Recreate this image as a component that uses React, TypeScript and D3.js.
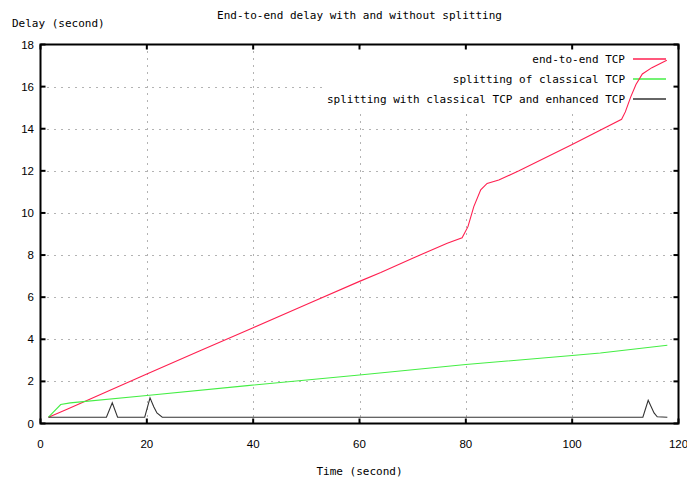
import React from "react";
import * as d3 from "d3";

const xTicks = [0, 20, 40, 60, 80, 100, 120];
const yTicks = [0, 2, 4, 6, 8, 10, 12, 14, 16, 18];

const seriesNames = [
  "end-to-end TCP",
  "splitting of classical TCP",
  "splitting with classical TCP and enhanced TCP",
];
const seriesColors = ["#ff2050", "#44ee44", "#333333"];

const endToEnd: [number, number][] = [
  [1.5, 0.3], [5, 0.68], [10, 1.24], [20, 2.35], [30, 3.45], [40, 4.55],
  [50, 5.65], [60, 6.75], [64, 7.17], [70, 7.85], [76.5, 8.56], [79.3, 8.82],
  [80.4, 9.35], [81.5, 10.3], [82.8, 11.1], [84, 11.4], [86.2, 11.56],
  [90, 12.0], [100, 13.25], [109.3, 14.45], [110, 14.8], [111, 15.5],
  [112, 16.1], [113.2, 16.6], [115, 16.9], [117.8, 17.25],
];

const classical: [number, number][] = [
  [1.5, 0.3], [3.8, 0.9], [5.6, 0.98], [20, 1.33], [38.9, 1.8], [60, 2.3],
  [80, 2.8], [100, 3.23], [105.3, 3.35], [117.9, 3.72],
];

const enhanced: [number, number][] = [
  [1.5, 0.3], [12.4, 0.3], [13.5, 0.98], [14.5, 0.3], [19.6, 0.3],
  [20.6, 1.22], [21.3, 0.8], [21.9, 0.5], [22.9, 0.3], [113.3, 0.3],
  [114.3, 1.1], [115.4, 0.5], [116, 0.32], [117.9, 0.3],
];

const allSeries = [endToEnd, classical, enhanced];

export default function App() {
  const W = 687;
  const H = 479;
  const left = 40.5, right = 678.5, top = 44.5, bottom = 423.5;
  const x = d3.scaleLinear().domain([0, 120]).range([left, right]);
  const y = d3.scaleLinear().domain([0, 18]).range([bottom, top]);
  const line = d3
    .line<[number, number]>()
    .x((d) => x(d[0]))
    .y((d) => y(d[1]));
  const mono = "'DejaVu Sans Mono', monospace";
  const sans = "'Liberation Sans', Arial, sans-serif";
  const tickLen = 5;
  const legendRows = [59, 79, 99];

  return (
    <svg
      width={W}
      height={H}
      style={{ position: "absolute", left: 0, top: 0, background: "#fff" }}
    >
      {/* grid */}
      <g stroke="#666" strokeWidth={1} strokeDasharray="1 6">
        {xTicks
          .filter((t) => t > 0 && t < 120)
          .map((t) => (
            <line key={"gx" + t} x1={Math.round(x(t)) + 0.5} x2={Math.round(x(t)) + 0.5} y1={top} y2={bottom} />
          ))}
        {yTicks
          .filter((t) => t > 0 && t < 18)
          .map((t) => (
            <line key={"gy" + t} x1={left} x2={right} y1={Math.round(y(t)) + 0.5} y2={Math.round(y(t)) + 0.5} />
          ))}
      </g>
      {/* legend background */}
      <rect x={322} y={46} width={352} height={63} fill="#fff" />
      {/* legend */}
      {seriesNames.map((n, i) => (
        <g key={n}>
          <text
            x={625}
            y={legendRows[i]}
            textAnchor="end"
            dominantBaseline="central"
            fontFamily={mono}
            fontSize={11}
            fill="#000"
          >
            {n}
          </text>
          <line
            x1={633}
            x2={666}
            y1={legendRows[i]}
            y2={legendRows[i]}
            stroke={seriesColors[i]}
            strokeWidth={1.3}
          />
        </g>
      ))}
      {/* data */}
      {allSeries.map((s, i) => (
        <path
          key={i}
          d={line(s) || ""}
          fill="none"
          stroke={seriesColors[i]}
          strokeWidth={1.1}
        />
      ))}
      {/* ticks */}
      <g stroke="#000" strokeWidth={2}>
        {xTicks.map((t) => (
          <g key={"tx" + t}>
            <line x1={x(t)} x2={x(t)} y1={bottom} y2={bottom - tickLen} />
            <line x1={x(t)} x2={x(t)} y1={top} y2={top + tickLen} />
          </g>
        ))}
        {yTicks.map((t) => (
          <g key={"ty" + t}>
            <line x1={left} x2={left + tickLen} y1={y(t)} y2={y(t)} />
            <line x1={right} x2={right - tickLen} y1={y(t)} y2={y(t)} />
          </g>
        ))}
      </g>
      {/* border */}
      <rect
        x={left}
        y={top}
        width={right - left}
        height={bottom - top}
        fill="none"
        stroke="#000"
        strokeWidth={2}
      />
      {/* tick labels */}
      {xTicks.map((t) => (
        <text
          key={"lx" + t}
          x={x(t)}
          y={444}
          textAnchor="middle"
          dominantBaseline="central"
          fontFamily={sans}
          fontSize={11.5}
          fill="#000"
        >
          {t}
        </text>
      ))}
      {yTicks.map((t) => (
        <text
          key={"ly" + t}
          x={34}
          y={y(t)}
          textAnchor="end"
          dominantBaseline="central"
          fontFamily={sans}
          fontSize={11.5}
          fill="#000"
        >
          {t}
        </text>
      ))}
      {/* titles */}
      <text
        x={(left + right) / 2}
        y={15}
        textAnchor="middle"
        dominantBaseline="central"
        fontFamily={mono}
        fontSize={11}
        fill="#000"
      >
        End-to-end delay with and without splitting
      </text>
      <text
        x={12}
        y={23}
        dominantBaseline="central"
        fontFamily={mono}
        fontSize={11}
        fill="#000"
      >
        Delay (second)
      </text>
      <text
        x={(left + right) / 2}
        y={471}
        textAnchor="middle"
        dominantBaseline="central"
        fontFamily={mono}
        fontSize={11}
        fill="#000"
      >
        Time (second)
      </text>
    </svg>
  );
}
